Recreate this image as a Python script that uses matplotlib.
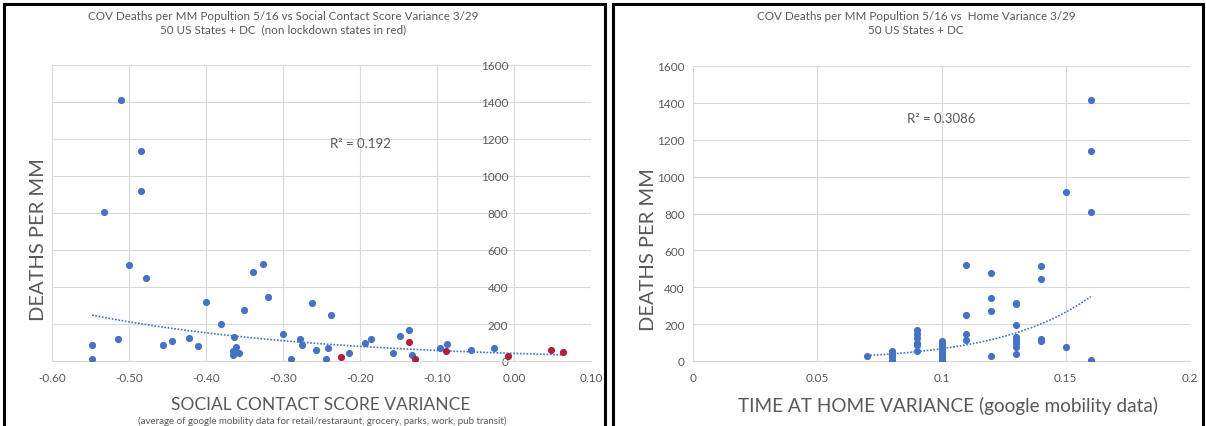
import numpy as np
import matplotlib
matplotlib.use("Agg")
import matplotlib.pyplot as plt
from matplotlib.patches import Rectangle

plt.rcParams['font.family'] = ['Lato', 'DejaVu Sans']

# ----------------------
# DATA
# ----------------------
# left: social contact score variance vs deaths per MM
social_x = [-0.510, -0.4845, -0.4845, -0.5325, -0.500, -0.4785, -0.326, -0.3385,
            -0.400, -0.3195, -0.3505, -0.2625, -0.238, -0.3805, -0.300, -0.5475,
            -0.548, -0.514, -0.4555, -0.4445, -0.422, -0.410, -0.3635, -0.3615,
            -0.3655, -0.3655, -0.3565, -0.290, -0.278, -0.2755, -0.2565, -0.244,
            -0.242, -0.2145, -0.194, -0.186, -0.1565, -0.148, -0.137, -0.133,
            -0.096, -0.087, -0.056, -0.026]
social_y = [1413, 1137, 919, 807, 519, 447, 523, 483,
            317, 344, 276, 313, 249, 198, 148, 85,
            13, 117, 88, 110, 122, 81, 131, 76,
            54, 31, 45, 13, 117, 88, 61, 13,
            70, 41, 95, 117, 41, 135, 166, 34,
            70, 92, 61, 70]
# non lockdown states (red)
social_red_x = [-0.225, -0.137, -0.1285, -0.0885, -0.0075, 0.048, 0.064]
social_red_y = [23, 103, 9, 52, 27, 59, 47]
social_ticks = ["-0.60", "-0.50", "-0.40", "-0.30", "-0.20", "-0.10", "0.00", "0.10"]

# right: time at home variance vs deaths per MM
home_x = ([0.16] * 4 + [0.15] * 2 + [0.14] * 4 + [0.13] * 8 + [0.12] * 4 +
          [0.11] * 4 + [0.10] * 14 + [0.09] * 6 + [0.08] * 4 + [0.07])
home_y = [1414, 1140, 809, 4,
          916, 74,
          516, 447, 118, 107,
          317, 311, 195, 132, 114, 100, 76, 38,
          476, 340, 273, 25,
          523, 248, 147, 112,
          107, 98, 90, 82, 76, 68, 62, 55, 45, 38, 31, 24, 13, 6,
          167, 149, 123, 100, 85, 54,
          54, 40, 24, 4,
          25]
home_ticks = ["0", "0.05", "0.1", "0.15", "0.2"]

BLUE = "#4472C4"
RED = "#B0203A"
GRID = "#D9D9D9"
TXT = "#595959"


def exp_trend(x, y):
    x = np.asarray(x, float)
    y = np.asarray(y, float)
    b, ln_a = np.polyfit(x, np.log(y), 1)
    xs = np.linspace(x.min(), x.max(), 100)
    return xs, np.exp(ln_a) * np.exp(b * xs)


fig = plt.figure(figsize=(12.06, 4.27), dpi=100)
W, H = 1206, 427


def fx(px):
    return px / W


def fy(py):
    return 1 - py / H


# panel frames
for x0, x1 in [(4, 605), (613, 1203)]:
    fig.patches.append(Rectangle((fx(x0), -0.1), fx(x1 - x0), fy(5) + 0.1,
                                 transform=fig.transFigure, fill=False,
                                 edgecolor="black", linewidth=2.2))

# ----------------------
# LEFT PANEL
# ----------------------
ax1 = fig.add_axes([fx(52), fy(362), fx(591 - 52), fy(66) - fy(362)])
ax1.scatter(social_x, social_y, s=17, color=BLUE, zorder=3)
ax1.scatter(social_red_x, social_red_y, s=17, color=RED, zorder=3)
tx, ty = exp_trend(social_x + social_red_x, social_y + social_red_y)
ax1.plot(tx, ty, linestyle=(0, (1, 1)), color=BLUE, linewidth=1.2, zorder=2)
ax1.set_xlim(-0.6, 0.1)
ax1.set_ylim(0, 1600)
ax1.set_xticks(np.linspace(-0.6, 0.1, len(social_ticks)))
ax1.set_xticklabels(social_ticks)
ax1.set_yticks(np.arange(0, 1601, 200))
ax1.spines['left'].set_position(('data', 0))
for s in ['left', 'right', 'top']:
    ax1.spines[s].set_visible(False)
ax1.spines['bottom'].set_color(GRID)
ax1.tick_params(length=0, colors=TXT, labelsize=8.5)
ax1.tick_params(axis='x', pad=8)
ax1.tick_params(axis='y', pad=4)
ax1.grid(True, color=GRID, linewidth=0.8)
ax1.set_axisbelow(True)
ax1.text(-0.2, 1180, "R² = 0.192", fontsize=9.5, color=TXT, ha="center", va="center")

fig.text(fx(283), fy(17), "COV Deaths per MM Popultion 5/16 vs Social Contact Score Variance 3/29",
         fontsize=8.4, color=TXT, ha="center", va="center")
fig.text(fx(283), fy(30), "50 US States + DC  (non lockdown states in red)",
         fontsize=8.4, color=TXT, ha="center", va="center")
fig.text(fx(321), fy(405), "SOCIAL CONTACT SCORE VARIANCE", fontsize=12.5,
         color=TXT, ha="center", va="center")
fig.text(fx(322), fy(421), "(average of google mobility data for retail/restaraunt, grocery, parks, work, pub transit)",
         fontsize=7, color=TXT, ha="center", va="center")
fig.text(fx(39), fy(240), "DEATHS PER MM", fontsize=14.5, color=TXT,
         ha="center", va="center", rotation=90)

# ----------------------
# RIGHT PANEL
# ----------------------
ax2 = fig.add_axes([fx(693), fy(362), fx(1190 - 693), fy(67) - fy(362)])
ax2.scatter(home_x, home_y, s=17, color=BLUE, zorder=3)
tx, ty = exp_trend(home_x, home_y)
ax2.plot(tx, ty, linestyle=(0, (1, 1)), color=BLUE, linewidth=1.2, zorder=2)
ax2.set_xlim(0, 0.2)
ax2.set_ylim(0, 1600)
ax2.set_xticks(np.linspace(0, 0.2, len(home_ticks)))
ax2.set_xticklabels(home_ticks)
ax2.set_yticks(np.arange(0, 1601, 200))
for s in ['left', 'right', 'top']:
    ax2.spines[s].set_visible(False)
ax2.spines['bottom'].set_color(GRID)
ax2.tick_params(length=0, colors=TXT, labelsize=8.5)
ax2.tick_params(axis='x', pad=8)
ax2.tick_params(axis='y', pad=6)
ax2.grid(True, color=GRID, linewidth=0.8)
ax2.set_axisbelow(True)
ax2.text(0.1, 1320, "R² = 0.3086", fontsize=9.5, color=TXT, ha="center", va="center")

fig.text(fx(916), fy(17), "COV Deaths per MM Popultion 5/16 vs  Home Variance 3/29",
         fontsize=8.4, color=TXT, ha="center", va="center")
fig.text(fx(916), fy(30), "50 US States + DC",
         fontsize=8.4, color=TXT, ha="center", va="center")
fig.text(fx(948), fy(406), "TIME AT HOME VARIANCE (google mobility data)", fontsize=13.7,
         color=TXT, ha="center", va="center")
fig.text(fx(648), fy(250), "DEATHS PER MM", fontsize=14.5, color=TXT,
         ha="center", va="center", rotation=90)

fig.savefig("out.png", dpi=100)
